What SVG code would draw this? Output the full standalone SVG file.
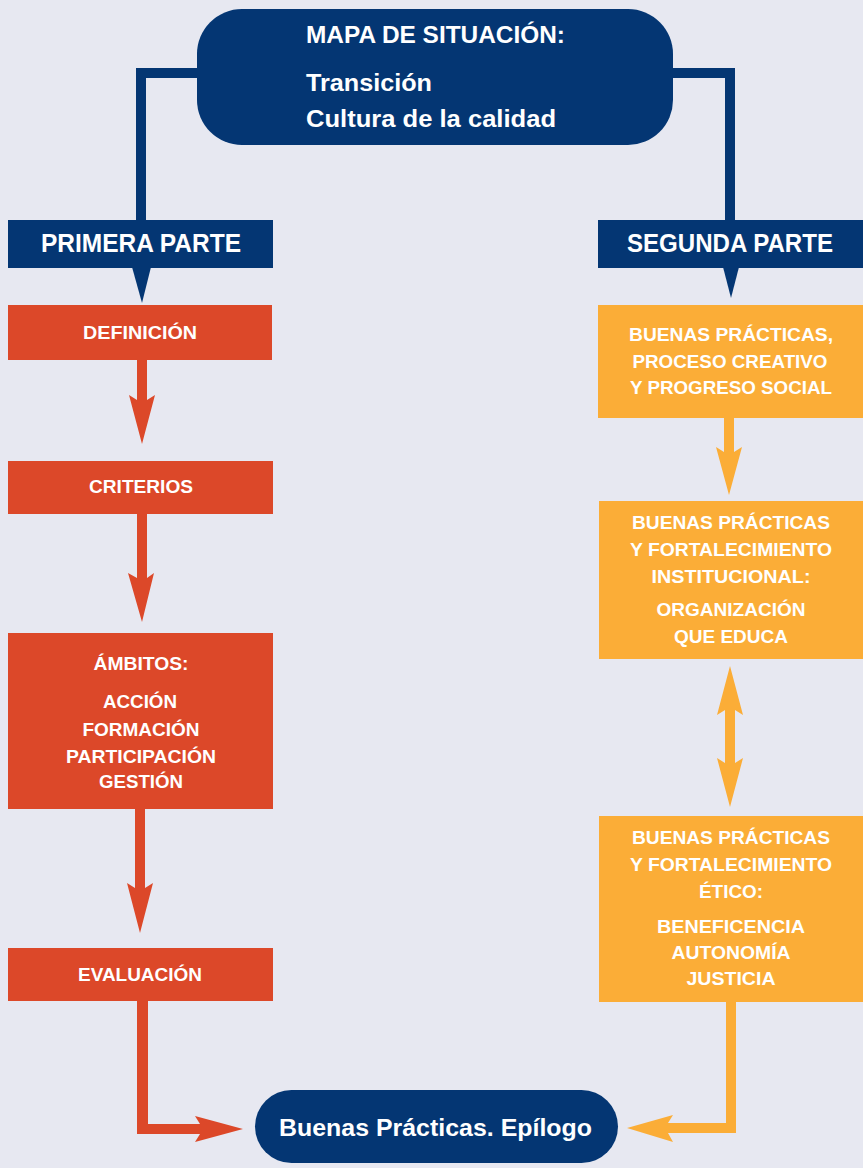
<svg xmlns="http://www.w3.org/2000/svg" width="863" height="1168" viewBox="0 0 863 1168">
<style>
.blue{fill:#043673}
.red{fill:#DC4829}
.org{fill:#FBAD37}
text{font-family:"Liberation Sans",Arial,sans-serif;font-weight:bold;fill:#FFFFFF}
.c{text-anchor:middle}
.s{font-size:19px}
.m{font-size:25px}
.l{font-size:24px}
</style>
<rect width="863" height="1168" fill="#E7E8F1"/>
<g id="connectors">
<path class="blue" d="M197,68 H136 V220 H146 V78 H197 Z"/>
<path class="blue" d="M673,68 H735 V220 H725 V78 H673 Z"/>
<polygon class="blue" points="132,267 151,267 142,303"/>
<polygon class="blue" points="723,267 739,267 731,298"/>
<path class="red" d="M137,359 H147 V400 L155,395 L142,444 L129,395 L137,400 Z"/>
<path class="red" d="M137,513 H147 V578 L154,573 L142,622 L128,573 L137,578 Z"/>
<path class="red" d="M135,808 H145 V888 L153,883 L140,933 L127,883 L135,888 Z"/>
<path class="red" d="M137,1000 H148 V1124 H200 L195,1116 L243,1129 L195,1142 L200,1134 H137 Z"/>
<path class="org" d="M724,417 H734 V452 L742,447 L729,495 L716,447 L724,452 Z"/>
<path class="org" d="M730,666 L743,715 L735,710 V763 L743,758 L730,807 L717,758 L725,763 V710 L717,715 Z"/>
<path class="org" d="M726,1001 H736 V1133 H668 L673,1142 L627,1128 L673,1115 L668,1123 H726 Z"/>
</g>
<g id="mapa">
<rect class="blue" x="197" y="9" width="476" height="136" rx="45"/>
<text class="l" x="306" y="43" textLength="259" lengthAdjust="spacingAndGlyphs">MAPA DE SITUACIÓN:</text>
<text class="l" x="306" y="91" textLength="126" lengthAdjust="spacingAndGlyphs">Transición</text>
<text class="l" x="306" y="127" textLength="250" lengthAdjust="spacingAndGlyphs">Cultura de la calidad</text>
</g>
<g id="primera">
<rect class="blue" x="8" y="220" width="265" height="48"/>
<text class="m c" x="141" y="252" textLength="200" lengthAdjust="spacingAndGlyphs">PRIMERA PARTE</text>
</g>
<g id="segunda">
<rect class="blue" x="598" y="220" width="265" height="48"/>
<text class="m c" x="730" y="252" textLength="206" lengthAdjust="spacingAndGlyphs">SEGUNDA PARTE</text>
</g>
<g id="definicion">
<rect class="red" x="8" y="305" width="264" height="55"/>
<text class="s c" x="140" y="339" textLength="114" lengthAdjust="spacingAndGlyphs">DEFINICIÓN</text>
</g>
<g id="criterios">
<rect class="red" x="8" y="461" width="265" height="53"/>
<text class="s c" x="141" y="493" textLength="104" lengthAdjust="spacingAndGlyphs">CRITERIOS</text>
</g>
<g id="ambitos">
<rect class="red" x="8" y="633" width="265" height="176"/>
<text class="s c" x="141" y="670" textLength="95" lengthAdjust="spacingAndGlyphs">ÁMBITOS:</text>
<text class="s c" x="140" y="708" textLength="74" lengthAdjust="spacingAndGlyphs">ACCIÓN</text>
<text class="s c" x="141" y="736" textLength="117" lengthAdjust="spacingAndGlyphs">FORMACIÓN</text>
<text class="s c" x="141" y="763" textLength="150" lengthAdjust="spacingAndGlyphs">PARTICIPACIÓN</text>
<text class="s c" x="141" y="788" textLength="84" lengthAdjust="spacingAndGlyphs">GESTIÓN</text>
</g>
<g id="evaluacion">
<rect class="red" x="8" y="948" width="265" height="53"/>
<text class="s c" x="140" y="981" textLength="124" lengthAdjust="spacingAndGlyphs">EVALUACIÓN</text>
</g>
<g id="buenas1">
<rect class="org" x="598" y="305" width="265" height="113"/>
<text class="s c" x="731" y="341" textLength="204" lengthAdjust="spacingAndGlyphs">BUENAS PRÁCTICAS,</text>
<text class="s c" x="730" y="368" textLength="195" lengthAdjust="spacingAndGlyphs">PROCESO CREATIVO</text>
<text class="s c" x="731" y="394" textLength="202" lengthAdjust="spacingAndGlyphs">Y PROGRESO SOCIAL</text>
</g>
<g id="buenas2">
<rect class="org" x="599" y="501" width="264" height="158"/>
<text class="s c" x="731" y="529" textLength="198" lengthAdjust="spacingAndGlyphs">BUENAS PRÁCTICAS</text>
<text class="s c" x="731" y="556" textLength="202" lengthAdjust="spacingAndGlyphs">Y FORTALECIMIENTO</text>
<text class="s c" x="731" y="583" textLength="159" lengthAdjust="spacingAndGlyphs">INSTITUCIONAL:</text>
<text class="s c" x="731" y="616" textLength="149" lengthAdjust="spacingAndGlyphs">ORGANIZACIÓN</text>
<text class="s c" x="731" y="643" textLength="114" lengthAdjust="spacingAndGlyphs">QUE EDUCA</text>
</g>
<g id="buenas3">
<rect class="org" x="599" y="816" width="264" height="186"/>
<text class="s c" x="731" y="844" textLength="198" lengthAdjust="spacingAndGlyphs">BUENAS PRÁCTICAS</text>
<text class="s c" x="731" y="871" textLength="202" lengthAdjust="spacingAndGlyphs">Y FORTALECIMIENTO</text>
<text class="s c" x="731" y="898" textLength="64" lengthAdjust="spacingAndGlyphs">ÉTICO:</text>
<text class="s c" x="731" y="933" textLength="148" lengthAdjust="spacingAndGlyphs">BENEFICENCIA</text>
<text class="s c" x="731" y="959" textLength="119" lengthAdjust="spacingAndGlyphs">AUTONOMÍA</text>
<text class="s c" x="731" y="985" textLength="89" lengthAdjust="spacingAndGlyphs">JUSTICIA</text>
</g>
<g id="epilogo">
<rect class="blue" x="255" y="1090" width="363" height="73" rx="36.5"/>
<text class="l c" x="435.5" y="1136" textLength="313" lengthAdjust="spacingAndGlyphs">Buenas Prácticas. Epílogo</text>
</g>
</svg>
